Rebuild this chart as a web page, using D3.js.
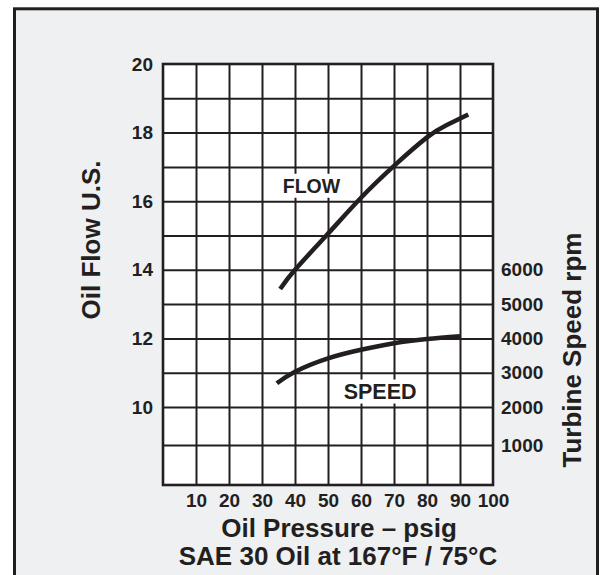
<!DOCTYPE html>
<html>
<head>
<meta charset="utf-8">
<script src="https://cdn.jsdelivr.net/npm/d3@7/dist/d3.min.js"></script>
<style>
  html, body { margin: 0; padding: 0; background: #ffffff; }
  svg { display: block; }
  text { font-family: "Liberation Sans", Arial, Helvetica, sans-serif; font-weight: bold; fill: #231f20; }
</style>
</head>
<body>
<script>
// ---- data ----
const pressureTicks = [10, 20, 30, 40, 50, 60, 70, 80, 90, 100];
const flowTicks = [10, 12, 14, 16, 18, 20];
const speedTicks = [1000, 2000, 3000, 4000, 5000, 6000];

const flowPressure = [35.5, 40, 49.5, 60, 70, 80, 86, 92.5];
const flowValues   = [13.44, 14.0, 15.0, 16.1, 17.03, 17.86, 18.22, 18.53];

const speedPressure = [34.5, 40, 50, 60, 70, 80, 90];
const speedValues   = [2690, 3030, 3420, 3670, 3860, 3980, 4060];

const xTitle = "Oil Pressure \u2013 psig";
const subTitle = "SAE 30 Oil at 167\u00B0F / 75\u00B0C";
const yTitle = "Oil Flow U.S.";
const y2Title = "Turbine Speed rpm";

// ---- layout ----
const W = 602, H = 575;
const ink = "#231f20";
const svg = d3.select("body").append("svg").attr("width", W).attr("height", H);

// panel background + border
svg.append("rect").attr("x", 14.5).attr("y", 8.8).attr("width", 583).attr("height", 600)
  .attr("fill", "#eff0f2").attr("stroke", ink).attr("stroke-width", 3);

const x = d3.scaleLinear().domain([0, 100]).range([163, 493]);
const y = d3.scaleLinear().domain([8, 9, 10, 20]).range([485, 445, 407, 64]);
const ySpeed = d3.scaleLinear().domain([0, 1000, 2000, 12000]).range([485, 445, 407, 64]);

// plot area
svg.append("rect").attr("x", x(0)).attr("y", y(20)).attr("width", x(100) - x(0)).attr("height", y(8) - y(20))
  .attr("fill", "#ffffff");

// grid via axes
const gx = svg.append("g").attr("transform", `translate(0,${y(8)})`)
  .call(d3.axisBottom(x).tickValues(d3.range(10, 100, 10)).tickSize(-(y(8) - y(20))).tickFormat(""));
const gy = svg.append("g").attr("transform", `translate(${x(0)},0)`)
  .call(d3.axisLeft(y).tickValues(d3.range(9, 20, 1)).tickSize(-(x(100) - x(0))).tickFormat(""));
[gx, gy].forEach(g => {
  g.select(".domain").remove();
  g.selectAll("line").attr("stroke", ink).attr("stroke-width", 2);
});

// frame
svg.append("rect").attr("x", x(0)).attr("y", y(20)).attr("width", x(100) - x(0)).attr("height", y(8) - y(20))
  .attr("fill", "none").attr("stroke", ink).attr("stroke-width", 2.6);

// curves
const flowLine = d3.line().x(d => x(d[0])).y(d => y(d[1])).curve(d3.curveNatural);
const speedLine = d3.line().x(d => x(d[0])).y(d => ySpeed(d[1])).curve(d3.curveNatural);

svg.append("path").datum(flowPressure.map((p, i) => [p, flowValues[i]]))
  .attr("d", flowLine).attr("fill", "none").attr("stroke", ink).attr("stroke-width", 4.5);
svg.append("path").datum(speedPressure.map((p, i) => [p, speedValues[i]]))
  .attr("d", speedLine).attr("fill", "none").attr("stroke", ink).attr("stroke-width", 4.5);

// curve labels with white backgrounds
function label(txt, cx, cy, size, padX, padY) {
  const g = svg.append("g");
  const r = g.append("rect").attr("fill", "#ffffff");
  const t = g.append("text").attr("x", cx).attr("y", cy).attr("text-anchor", "middle")
    .attr("dominant-baseline", "central").attr("font-size", size).text(txt);
  const b = t.node().getBBox();
  r.attr("x", b.x - padX).attr("y", b.y - padY).attr("width", b.width + 2 * padX).attr("height", b.height + 2 * padY);
}
label("FLOW", x(45), y(16.45), 19.5, 3, 1);
label("SPEED", x(65.8), ySpeed(2450), 21.5, 3, 0);

// tick labels via axes
const ax = svg.append("g").attr("transform", `translate(0,${y(8)})`)
  .call(d3.axisBottom(x).tickValues(pressureTicks).tickSize(0).tickPadding(9));
const ayL = svg.append("g").attr("transform", `translate(${x(0)},0)`)
  .call(d3.axisLeft(y).tickValues(flowTicks).tickSize(0).tickPadding(10));
const ayR = svg.append("g").attr("transform", `translate(${x(100)},0)`)
  .call(d3.axisRight(ySpeed).tickValues(speedTicks).tickFormat(d3.format("d")).tickSize(0).tickPadding(8));
[ax, ayL, ayR].forEach(g => {
  g.select(".domain").remove();
  g.attr("font-size", 19);
  g.selectAll("text").attr("font-size", 19).attr("fill", ink)
    .style("font-family", "'Liberation Sans', Arial, sans-serif").style("font-weight", "bold");
});

// titles
svg.append("text").attr("x", 339).attr("y", 537).attr("text-anchor", "middle").attr("font-size", 26).text(xTitle);
svg.append("text").attr("x", 338).attr("y", 565).attr("text-anchor", "middle").attr("font-size", 26).text(subTitle);
svg.append("text").attr("transform", "translate(100,240) rotate(-90)").attr("text-anchor", "middle")
  .attr("font-size", 26).text(yTitle);
svg.append("text").attr("transform", "translate(581,350) rotate(-90)").attr("text-anchor", "middle")
  .attr("font-size", 26).text(y2Title);
</script>
</body>
</html>
